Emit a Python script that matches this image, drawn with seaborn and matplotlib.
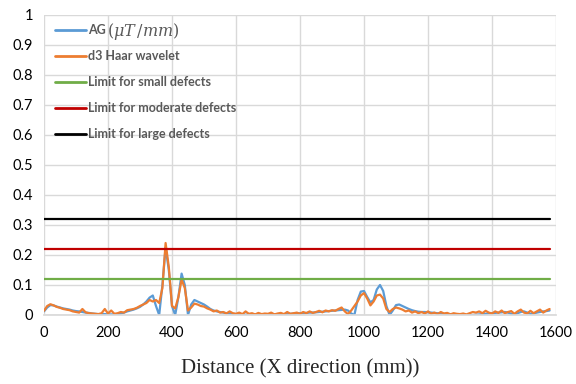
import numpy as np
import pandas as pd
import matplotlib
matplotlib.use("Agg")
import matplotlib.pyplot as plt
import seaborn as sns

distance = list(range(0, 1590, 10))

ag = [
    0.012, 0.025, 0.033, 0.032, 0.028, 0.025, 0.022, 0.02, 0.018, 0.015,
    0.013, 0.012, 0.01, 0.008, 0.007, 0.005, 0.004, 0.003, 0.003, 0.003,
    0.002, 0.002, 0.002, 0.003, 0.005, 0.008, 0.012, 0.015, 0.018, 0.022,
    0.027, 0.035, 0.045, 0.058, 0.065, 0.03, 0.0, 0.1, 0.225, 0.15,
    0.03, 0.0, 0.06, 0.138, 0.1, 0.0, 0.035, 0.05, 0.045, 0.04,
    0.035, 0.028, 0.02, 0.015, 0.012, 0.01, 0.008, 0.006, 0.005, 0.004,
    0.003, 0.002, 0.002, 0.001, 0.001, 0.001, 0.001, 0.002, 0.002, 0.002,
    0.002, 0.002, 0.002, 0.003, 0.003, 0.003, 0.004, 0.004, 0.005, 0.005,
    0.006, 0.006, 0.007, 0.008, 0.008, 0.009, 0.01, 0.011, 0.012, 0.013,
    0.014, 0.015, 0.016, 0.017, 0.018, 0.015, 0.005, 0.0, 0.05, 0.078,
    0.08, 0.06, 0.042, 0.05, 0.085, 0.1, 0.08, 0.03, 0.0, 0.015,
    0.033, 0.035, 0.03, 0.025, 0.02, 0.016, 0.013, 0.011, 0.01, 0.01,
    0.009, 0.008, 0.007, 0.006, 0.005, 0.004, 0.004, 0.003, 0.003, 0.002,
    0.001, 0.001, 0.0, 0.0, 0.0, 0.001, 0.002, 0.003, 0.004, 0.005,
    0.006, 0.007, 0.008, 0.009, 0.01, 0.008, 0.004, 0.002, 0.006, 0.01,
    0.012, 0.008, 0.004, 0.005, 0.008, 0.01, 0.012, 0.013, 0.015,
]

haar = [
    0.014, 0.03, 0.036, 0.032, 0.027, 0.024, 0.02, 0.018, 0.016, 0.012,
    0.01, 0.008, 0.02, 0.009, 0.006, 0.005, 0.004, 0.003, 0.006, 0.02,
    0.005, 0.015, 0.004, 0.006, 0.01, 0.008, 0.016, 0.018, 0.02, 0.024,
    0.03, 0.035, 0.04, 0.05, 0.045, 0.05, 0.04, 0.09, 0.24, 0.16,
    0.03, 0.022, 0.06, 0.118, 0.09, 0.015, 0.025, 0.038, 0.035, 0.03,
    0.028, 0.022, 0.018, 0.012, 0.015, 0.008, 0.01, 0.005, 0.012, 0.006,
    0.004, 0.008, 0.003, 0.012, 0.004, 0.006, 0.002, 0.007, 0.003, 0.005,
    0.004, 0.008, 0.002, 0.005, 0.007, 0.003, 0.01, 0.004, 0.006, 0.008,
    0.004, 0.01, 0.006, 0.012, 0.007, 0.01, 0.014, 0.009, 0.015, 0.012,
    0.016, 0.014, 0.02, 0.025, 0.012, 0.003, 0.015, 0.03, 0.045, 0.065,
    0.073, 0.055, 0.032, 0.045, 0.065, 0.068, 0.055, 0.02, 0.01, 0.02,
    0.025, 0.022, 0.018, 0.012, 0.015, 0.008, 0.012, 0.006, 0.01, 0.005,
    0.012, 0.004, 0.008, 0.003, 0.01, 0.005, 0.007, 0.002, 0.006, 0.004,
    0.003, 0.005, 0.002, 0.006, 0.01, 0.008, 0.012, 0.006, 0.014, 0.008,
    0.005, 0.012, 0.007, 0.015, 0.006, 0.01, 0.013, 0.004, 0.012, 0.018,
    0.008, 0.005, 0.014, 0.006, 0.012, 0.018, 0.008, 0.015, 0.02,
]

limit_small = 0.12
limit_moderate = 0.22
limit_large = 0.32

labels = ["AG", "d3 Haar wavelet", "Limit for small defects",
          "Limit for moderate defects", "Limit for large defects"]
ag_unit = r"$(\mu T\,/mm)$"
colors = ["#5B9BD5", "#ED7D31", "#70AD47", "#C00000", "#000000"]

x_ticks = [0, 200, 400, 600, 800, 1000, 1200, 1400, 1600]
y_ticks = [0, 0.1, 0.2, 0.3, 0.4, 0.5, 0.6, 0.7, 0.8, 0.9, 1.0]
y_ticklabels = ["0", "0.1", "0.2", "0.3", "0.4", "0.5", "0.6", "0.7", "0.8", "0.9", "1"]

sns.set_theme(style="white")
plt.rcParams["font.family"] = ["Lato", "DejaVu Sans"]
plt.rcParams["mathtext.fontset"] = "dejavuserif"

fig = plt.figure(figsize=(5.76, 3.84), dpi=100)
ax = fig.add_axes([44 / 576, 1 - 315 / 384, 512 / 576, 300 / 384])

n = len(distance)
df = pd.DataFrame({
    "x": distance * 5,
    "y": ag + haar + [limit_small] * n + [limit_moderate] * n + [limit_large] * n,
    "series": sum([[lab] * n for lab in labels], []),
})
sns.lineplot(data=df, x="x", y="y", hue="series", hue_order=labels,
             palette=colors, linewidth=1.6, ax=ax, legend=False, sort=False)

ax.set_xlim(0, 1600)
ax.set_ylim(0, 1)
ax.set_xticks(x_ticks)
ax.set_yticks(y_ticks)
ax.set_yticklabels(y_ticklabels)
ax.grid(True, color="#D9D9D9", linewidth=1.0)
ax.set_axisbelow(True)
for s in ["top", "right", "left"]:
    ax.spines[s].set_visible(False)
ax.spines["bottom"].set_color("#D9D9D9")
ax.tick_params(axis="both", length=0, labelsize=10.5, colors="#000000", pad=8)
ax.set_ylabel("")
ax.set_xlabel("Distance (X direction (mm))", fontsize=15,
              family=["Liberation Serif", "DejaVu Serif"], labelpad=14)

ypos = [30, 56, 82, 108, 134]
for i, (lab, col) in enumerate(zip(labels, colors)):
    yf = 1 - ypos[i] / 384
    fig.add_artist(plt.Line2D([55 / 576, 86 / 576], [yf, yf], color=col,
                              linewidth=2.0, transform=fig.transFigure))
    fig.text(88 / 576, yf, lab, color="#595959", fontsize=9, weight="bold",
             va="center", ha="left")
fig.text(107 / 576, 1 - 31 / 384, ag_unit, color="#595959", fontsize=11.5,
         va="center", ha="left")

fig.savefig("out.png", dpi=100)
